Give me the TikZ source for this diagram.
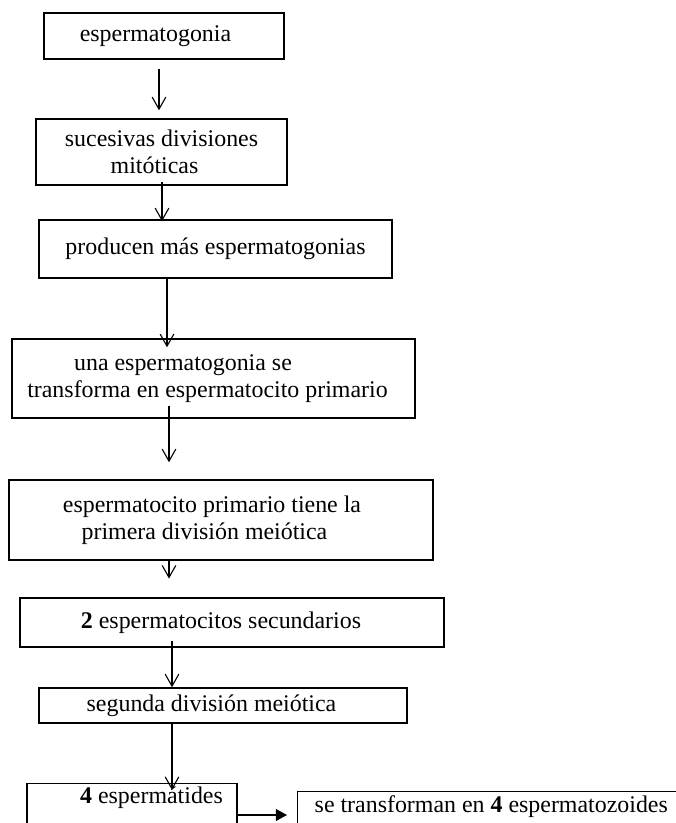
\documentclass[tikz,border=0pt]{standalone}
\usepackage{fontspec}
\setmainfont{Liberation Serif}
\usetikzlibrary{arrows.meta}
\newcommand{\pxl}{0.025cm}
\tikzset{
	box/.style={draw, line width=1pt, inner sep=0pt, align=center, font=\fontsize{17}{19.5}\selectfont},
	arr/.style={-{Straight Barb[length=0.3cm,width=0.34cm]}, line width=0.8pt},
	harr/.style={-{Triangle[length=0.28cm,width=0.3cm]}, line width=0.8pt}
}
\begin{document}
\begin{tikzpicture}[x=\pxl, y=-\pxl]
	\useasboundingbox (0,0) rectangle (676,823);
	\node[box, minimum width=240*\pxl, minimum height=46*\pxl] (gonia) at (164,36) {espermatogonia\hspace*{0.425cm}};
	\node[box, minimum width=251*\pxl, minimum height=66*\pxl] (mitosis) at (161.5,152) {sucesivas divisiones\\mitóticas\hspace*{0.35cm}};
	\node[box, minimum width=353*\pxl, minimum height=58*\pxl] (mas) at (215.5,249) {producen más espermatogonias};
	\node[box, minimum width=403*\pxl, minimum height=79*\pxl] (transf) at (213.5,378.5) {una espermatogonia se\hspace*{1.525cm}\\transforma en espermatocito primario\hspace*{0.3cm}};
	\node[box, minimum width=424*\pxl, minimum height=80*\pxl] (primera) at (221,520) {espermatocito primario tiene la\hspace*{0.45cm}\\primera división meiótica\hspace*{0.825cm}};
	\node[box, line width=2pt, minimum width=424*\pxl, minimum height=49*\pxl] (secund) at (232,622.5) {\textbf{2} espermatocitos secundarios\hspace*{0.55cm}};
	\node[box, minimum width=368*\pxl, minimum height=35*\pxl] (segunda) at (223,705.5) {segunda división meiótica\hspace*{0.575cm}};
	\node[box, anchor=north, minimum width=210*\pxl, text height=20*\pxl, text depth=40*\pxl] (tides) at (132,783) {\hspace*{0.975cm}\textbf{4} espermátides};
	\node[box, anchor=north west, inner xsep=17*\pxl, text height=21*\pxl, text depth=40*\pxl] (zoides) at (297,791) {se transforman en \textbf{4} espermatozoides};
	% flechas
	\draw[arr, shorten <=0.225cm, shorten >=0.2cm] (gonia.south -| 159,0) -- (mitosis.north -| 159,0);
	\draw[arr, shorten <=-0.1cm, shorten >=-0.05cm] (mitosis.south -| 162,0) -- (mas.north -| 162,0);
	\draw[arr, shorten >=-0.225cm] (mas.south -| 167,0) -- (transf.north -| 167,0);
	\draw[arr, shorten <=-0.325cm, shorten >=0.425cm] (transf.south -| 169,0) -- (primera.north -| 169,0);
	\draw[arr, shorten >=0.45cm] (primera.south -| 169,0) -- (secund.north -| 169,0);
	\draw[arr, shorten <=-0.175cm] (secund.south -| 172,0) -- (segunda.north -| 172,0);
	\draw[arr, shorten >=-0.175cm] (segunda.south -| 172,0) -- (tides.north -| 172,0);
	\draw[harr, shorten >=0.25cm] (tides.east |- 0,815) -- (zoides.west |- 0,815);
\end{tikzpicture}
\end{document}
